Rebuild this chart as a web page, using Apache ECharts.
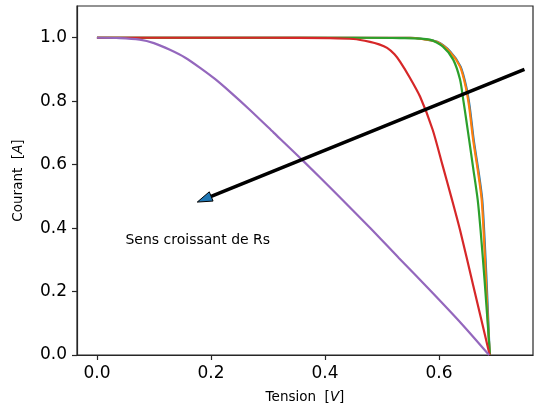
<!DOCTYPE html>
<html>
<head>
<meta charset="utf-8">
<script src="https://cdn.jsdelivr.net/npm/echarts@6/dist/echarts.min.js"></script>
<style>
  html, body { margin: 0; padding: 0; background: #fff; }
  #chart { width: 534px; height: 409px; }
</style>
</head>
<body>
<div id="chart"></div>
<script>
// I-V curves of a solar cell for increasing series resistance Rs
const vBlue   = [0, 0.45, 0.55, 0.572, 0.597, 0.620, 0.638, 0.648, 0.654, 0.661, 0.669, 0.676, 0.681, 0.685, 0.689];
const iBlue   = [1.0, 1.0, 1.0, 0.996, 0.987, 0.956, 0.909, 0.845, 0.782, 0.678, 0.584, 0.489, 0.331, 0.174, 0.0];

const vOrange = [0, 0.45, 0.549, 0.570, 0.596, 0.619, 0.637, 0.647, 0.653, 0.660, 0.668, 0.675, 0.680, 0.684, 0.689];
const iOrange = [1.0, 1.0, 1.0, 0.996, 0.987, 0.956, 0.909, 0.845, 0.782, 0.678, 0.584, 0.489, 0.331, 0.174, 0.0];

const vGreen  = [0, 0.45, 0.532, 0.584, 0.607, 0.625, 0.637, 0.643, 0.648, 0.653, 0.660, 0.668, 0.673, 0.680, 0.6895];
const iGreen  = [1.0, 1.0, 0.999, 0.994, 0.972, 0.931, 0.868, 0.800, 0.740, 0.678, 0.590, 0.489, 0.394, 0.237, 0.0];

const vRed    = [0, 0.30, 0.409, 0.45, 0.479, 0.495, 0.509, 0.522, 0.532, 0.549, 0.567, 0.589, 0.606, 0.623, 0.637, 0.660, 0.689];
const iRed    = [1.0, 1.0, 0.999, 0.996, 0.987, 0.979, 0.968, 0.948, 0.924, 0.874, 0.814, 0.710, 0.600, 0.489, 0.394, 0.22, 0.0];

const vPurple = [0, 0.04, 0.075, 0.10, 0.128, 0.155, 0.181, 0.207, 0.233, 0.268, 0.31, 0.36, 0.42, 0.479, 0.53, 0.584, 0.64, 0.688];
const iPurple = [1.0, 0.999, 0.994, 0.983, 0.962, 0.937, 0.905, 0.870, 0.830, 0.773, 0.701, 0.615, 0.508, 0.401, 0.305, 0.205, 0.098, 0.0];

const xTicks = [0, 0.2, 0.4, 0.6];
const yTicks = [0, 0.2, 0.4, 0.6, 0.8, 1.0];

// annotation arrow (tail -> tip) and its caption
const arrowTail = [0.75, 0.9];
const arrowTip  = [0.176, 0.482];
const captionAt = [0.05, 0.35];
const captionText = 'Sens croissant de Rs';

const zip = (xs, ys) => xs.map((x, k) => [x, ys[k]]);
const FONT = '"DejaVu Sans", sans-serif';
const AX = '#262626';

function curve(name, color, xs, ys) {
  return {
    name, type: 'line', data: zip(xs, ys),
    showSymbol: false, smooth: 0.25,
    lineStyle: { color, width: 2.2 }, itemStyle: { color },
    animation: false, z: 2
  };
}

const chart = echarts.init(document.getElementById('chart'), null, { renderer: 'canvas' });
chart.setOption({
  animation: false,
  backgroundColor: '#fff',
  grid: { left: 77, right: 1, top: 6, bottom: 54, show: true, borderColor: AX, borderWidth: 1.2, backgroundColor: 'transparent' },
  xAxis: {
    type: 'value', min: -0.035, max: 0.765,
    name: '{n|Tension  [}{i|V}{n|]}', nameLocation: 'middle', nameGap: 35,
    nameTextStyle: { rich: { n: { fontFamily: FONT, fontSize: 13.5, color: '#000' }, i: { fontFamily: FONT, fontStyle: 'italic', fontSize: 13.5, color: '#000' } } },
    axisLine: { show: true, onZero: false, lineStyle: { color: AX, width: 1.2 } },
    axisTick: { show: true, inside: false, length: 5, customValues: xTicks, lineStyle: { color: AX, width: 1.2 } },
    axisLabel: { customValues: xTicks, margin: 10, fontFamily: FONT, fontSize: 17, color: '#000', formatter: v => v.toFixed(1) },
    splitLine: { show: false }
  },
  yAxis: {
    type: 'value', min: 0, max: 1.1,
    name: '{n|Courant  [}{i|A}{n|]}', nameLocation: 'middle', nameGap: 52,
    nameTextStyle: { rich: { n: { fontFamily: FONT, fontSize: 13.5, color: '#000' }, i: { fontFamily: FONT, fontStyle: 'italic', fontSize: 13.5, color: '#000' } } },
    axisLine: { show: true, onZero: false, lineStyle: { color: AX, width: 1.2 } },
    axisTick: { show: true, inside: false, length: 5, customValues: yTicks, lineStyle: { color: AX, width: 1.2 } },
    axisLabel: { customValues: yTicks, margin: 10, fontFamily: FONT, fontSize: 17, color: '#000', formatter: v => v.toFixed(1) },
    splitLine: { show: false }
  },
  series: [
    curve('Rs0', '#1f77b4', vBlue, iBlue),
    curve('Rs1', '#ff7f0e', vOrange, iOrange),
    curve('Rs2', '#2ca02c', vGreen, iGreen),
    curve('Rs3', '#d62728', vRed, iRed),
    curve('Rs4', '#9467bd', vPurple, iPurple),
    {
      type: 'custom', coordinateSystem: 'cartesian2d', silent: true, clip: false, z: 5,
      data: [[arrowTail[0], arrowTail[1], arrowTip[0], arrowTip[1]]],
      renderItem: (params, api) => {
        const p0 = api.coord([api.value(0), api.value(1)]);
        const p1 = api.coord([api.value(2), api.value(3)]);
        const dx = p1[0] - p0[0], dy = p1[1] - p0[1];
        const len = Math.hypot(dx, dy);
        const ux = dx / len, uy = dy / len;
        const px = -uy, py = ux;
        const headLen = 15, headHalf = 5;
        const bx = p1[0] - ux * headLen, by = p1[1] - uy * headLen;
        return {
          type: 'group',
          children: [
            { type: 'line', shape: { x1: p0[0], y1: p0[1], x2: bx + ux * 2, y2: by + uy * 2 },
              style: { stroke: '#000', lineWidth: 3.5 } },
            { type: 'polygon', shape: { points: [[p1[0], p1[1]], [bx + px * headHalf, by + py * headHalf], [bx - px * headHalf, by - py * headHalf]] },
              style: { fill: '#1f77b4', stroke: '#000', lineWidth: 1 } }
          ]
        };
      }
    },
    {
      type: 'custom', coordinateSystem: 'cartesian2d', silent: true, clip: false, z: 5,
      data: [[captionAt[0], captionAt[1]]],
      renderItem: (params, api) => {
        const p = api.coord([api.value(0), api.value(1)]);
        return {
          type: 'text', x: p[0], y: p[1] + 3,
          style: { text: captionText, fontFamily: FONT, fontSize: 14, fill: '#000', align: 'left', verticalAlign: 'bottom' }
        };
      }
    }
  ]
});
</script>
</body>
</html>
